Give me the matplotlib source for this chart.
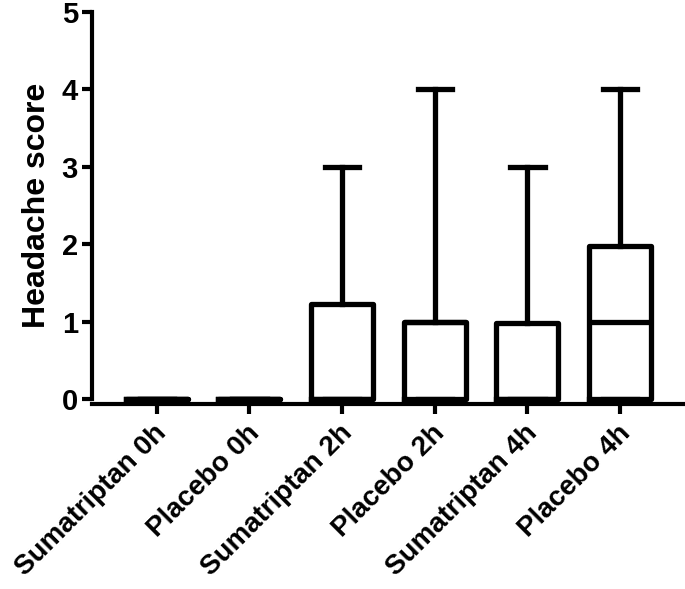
import matplotlib
matplotlib.use("Agg")
import matplotlib.pyplot as plt
import matplotlib.transforms as mtransforms

plt.rcParams["font.family"] = ["Liberation Sans", "DejaVu Sans"]
plt.rcParams["font.weight"] = "bold"

grupos = ["Sumatriptan 0h", "Placebo 0h", "Sumatriptan 2h",
          "Placebo 2h", "Sumatriptan 4h", "Placebo 4h"]
minimos = [0, 0, 0, 0, 0, 0]
q1 = [0, 0, 0, 0, 0, 0]
medianas = [0, 0, 0, 1, 0, 1]
q3 = [0, 0, 1.23, 1.0, 0.98, 1.98]
maximos = [0, 0, 3, 4, 3, 4]

estatisticas = []
for i, nome in enumerate(grupos):
    estatisticas.append({
        "label": nome,
        "whislo": minimos[i],
        "q1": q1[i],
        "med": medianas[i],
        "q3": q3[i],
        "whishi": maximos[i],
        "fliers": [],
    })

fig = plt.figure(figsize=(6.85, 5.89), dpi=100)
ax = fig.add_axes([0.134, 0.322, 0.866, 0.658])

# posição do eixo antes dos rótulos (set_position reinicia os ticks)
for lado in ["top", "right"]:
    ax.spines[lado].set_visible(False)
for lado in ["left", "bottom"]:
    ax.spines[lado].set_linewidth(3)
ax.spines["bottom"].set_position(("outward", 3))

lw = 3.8
ax.bxp(
    estatisticas,
    positions=range(len(grupos)),
    widths=0.67,
    showfliers=False,
    boxprops=dict(color="black", linewidth=lw),
    whiskerprops=dict(color="black", linewidth=lw),
    capprops=dict(color="black", linewidth=lw),
    medianprops=dict(color="black", linewidth=lw),
    capwidths=0.37,
    manage_ticks=False,
)
for artista in ax.get_children():
    if hasattr(artista, "set_clip_on"):
        artista.set_clip_on(False)

ax.set_xlim(-0.7, 5.7)
ax.set_ylim(0, 5)
ax.set_yticks(range(6))
ax.set_xticks(range(len(grupos)))
ax.set_xticklabels(grupos, rotation=45, ha="right", rotation_mode="anchor")
ax.set_ylabel("Headache score", fontsize=23, fontweight="bold", labelpad=7)

ax.tick_params(axis="both", width=3, length=7, direction="out")
ax.tick_params(axis="y", labelsize=21, pad=3)
ax.tick_params(axis="x", labelsize=20, pad=5)

deslocamento = mtransforms.ScaledTranslation(-3 / 100, 0, fig.dpi_scale_trans)
for rotulo in ax.get_xticklabels():
    rotulo.set_transform(rotulo.get_transform() + deslocamento)

fig.savefig("out.png", dpi=100)
